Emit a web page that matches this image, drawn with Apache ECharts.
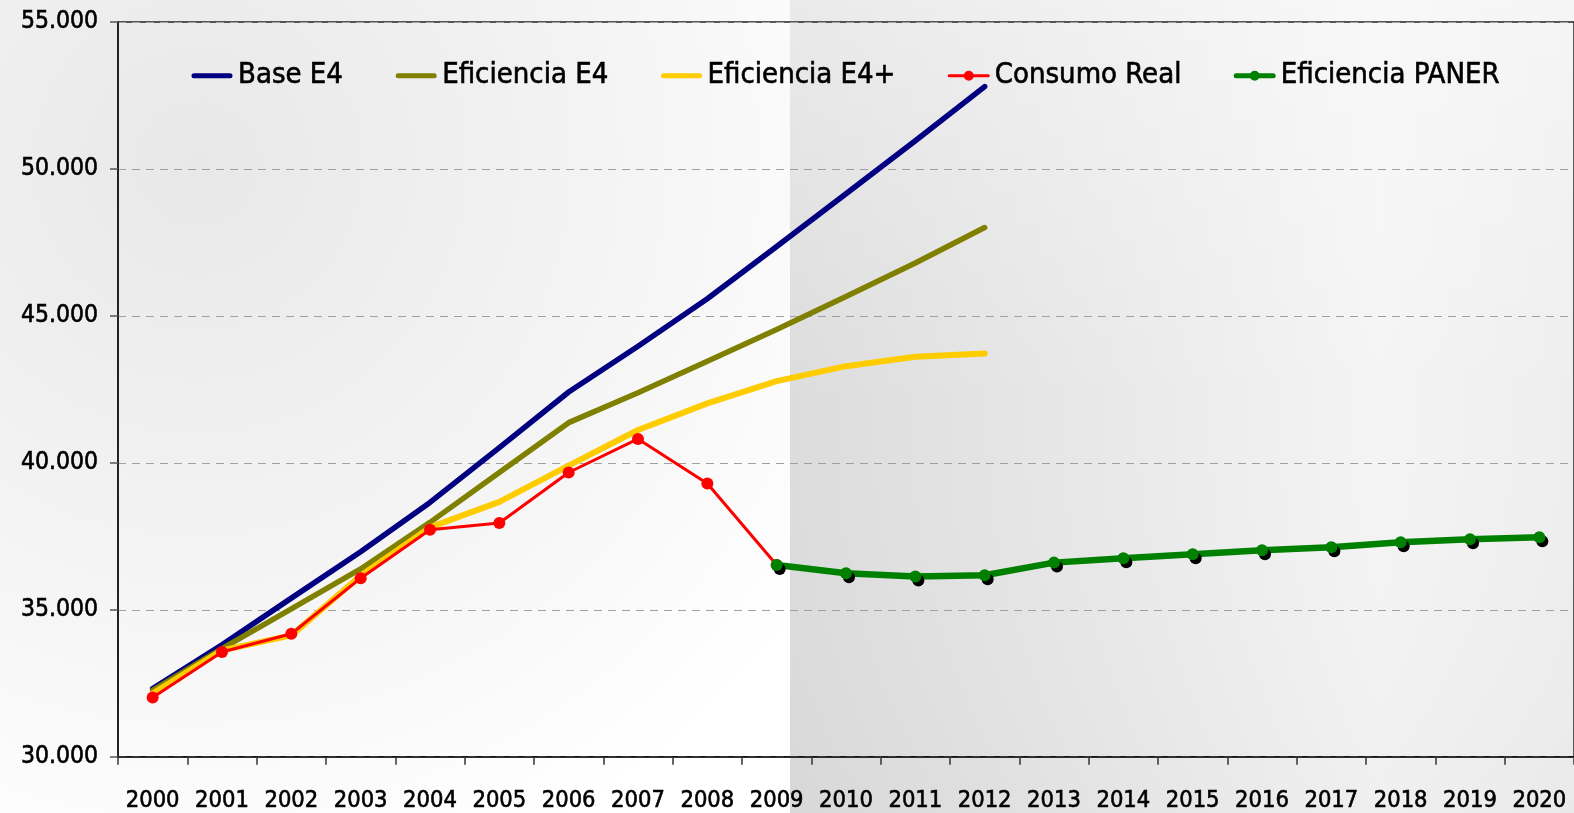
<!DOCTYPE html>
<html>
<head>
<meta charset="utf-8">
<script src="https://cdn.jsdelivr.net/npm/echarts@6/dist/echarts.min.js"></script>
<style>
html,body{margin:0;padding:0;background:#f2f2f2;}
#chart{width:1574px;height:813px;}
</style>
</head>
<body>
<div id="chart"></div>
<script>
const years = ['2000','2001','2002','2003','2004','2005','2006','2007','2008','2009','2010','2011','2012','2013','2014','2015','2016','2017','2018','2019','2020'];
const baseE4 = [32318, 33810, 35395, 36977, 38653, 40519, 42410, 43967, 45585, 47360, 49155, 50960, 52803];
const eficienciaE4 = [32260, 33675, 35032, 36390, 37974, 39671, 41367, 42385, 43458, 44533, 45663, 46797, 48005];
const eficienciaE4Plus = [32148, 33617, 34127, 36162, 37804, 38673, 39905, 41117, 42023, 42779, 43288, 43607, 43719];
const consumoReal = [32012, 33563, 34184, 36074, 37723, 37950, 39671, 40813, 39298, 36525];
const eficienciaPANER = [null, null, null, null, null, null, null, null, null, 36525, 36244, 36128, 36176, 36604, 36756, 36892, 37028, 37129, 37299, 37401, 37469];
const yTicks = {min: 30000, max: 55000, interval: 5000};

const FONT = "'DejaVu Sans Condensed', 'DejaVu Sans', sans-serif";
const chart = echarts.init(document.getElementById('chart'), null, {renderer: 'canvas'});

function fmt(v) {
  return String(v).replace(/\B(?=(\d{3})+(?!\d))/g, '.');
}

// legend icons drawn in a 42x12 box (corner points fix the box)
const BOX = 'M0,0 L0.01,0 M0,12 L0.01,12 M42,0 L41.99,0 M42,12 L41.99,12 ';
const ICON_LINE = 'path://' + BOX + 'M3,3.5 L39,3.5 A2.5,2.5 0 0 1 39,8.5 L3,8.5 A2.5,2.5 0 0 1 3,3.5 Z';
const ICON_RED = 'path://' + BOX + 'M1.5,4.5 L40.5,4.5 A1.5,1.5 0 0 1 40.5,7.5 L1.5,7.5 A1.5,1.5 0 0 1 1.5,4.5 Z M16,6 A5,5 0 1 1 26,6 A5,5 0 1 1 16,6 Z';
const ICON_GREEN = 'path://' + BOX + 'M2.5,3.5 L39.5,3.5 A2.5,2.5 0 0 1 39.5,8.5 L2.5,8.5 A2.5,2.5 0 0 1 2.5,3.5 Z M16,6 A5,5 0 1 1 26,6 A5,5 0 1 1 16,6 Z';

const heavy = {textBorderColor: '#000', textBorderWidth: 0.6};

chart.setOption({
  animation: false,
  backgroundColor: '#f2f2f2',
  textStyle: {fontFamily: FONT, color: '#000'},
  legend: {
    left: 186,
    top: 56,
    itemWidth: 42,
    itemHeight: 12,
    itemGap: 52,
    textStyle: Object.assign({fontSize: 29, fontFamily: FONT, color: '#000'}, heavy),
    data: [
      {name: 'Base E4', icon: ICON_LINE},
      {name: 'Eficiencia E4', icon: ICON_LINE},
      {name: 'Eficiencia E4+', icon: ICON_LINE},
      {name: 'Consumo Real', icon: ICON_RED},
      {name: 'Eficiencia PANER', icon: ICON_GREEN}
    ]
  },
  grid: {
    left: 118, top: 22, right: -4, bottom: 55,
    show: true, borderColor: '#222', borderWidth: 1.5, backgroundColor: 'transparent',
    containLabel: false
  },
  xAxis: {
    type: 'category',
    data: years,
    boundaryGap: true,
    axisLine: {lineStyle: {color: '#111', width: 1.5}},
    axisTick: {show: true, length: 8, lineStyle: {color: '#333', width: 1.5}},
    axisLabel: Object.assign({fontSize: 23.5, fontFamily: FONT, color: '#000', margin: 32, interval: 0}, heavy),
    splitLine: {show: false}
  },
  yAxis: {
    type: 'value',
    min: yTicks.min, max: yTicks.max, interval: yTicks.interval,
    axisLine: {show: true, lineStyle: {color: '#111', width: 1.5}},
    axisTick: {show: true, length: 8, lineStyle: {color: '#555', width: 1.5}},
    axisLabel: Object.assign({fontSize: 24.5, fontFamily: FONT, color: '#000', margin: 20, formatter: fmt}, heavy),
    splitLine: {show: true, lineStyle: {color: '#a0a0a0', width: 1.2, type: [8, 6]}}
  },
  series: [
    {name: 'Base E4', type: 'line', data: baseE4, symbol: 'none', z: 3,
      lineStyle: {color: '#000080', width: 5.5, cap: 'round', join: 'round'}, itemStyle: {color: '#000080'}},
    {name: 'Eficiencia E4', type: 'line', data: eficienciaE4, symbol: 'none', z: 4,
      lineStyle: {color: '#808000', width: 5.5, cap: 'round', join: 'round'}, itemStyle: {color: '#808000'}},
    {name: 'Eficiencia E4+', type: 'line', data: eficienciaE4Plus, symbol: 'none', z: 5,
      lineStyle: {color: '#FFCC00', width: 6, cap: 'round', join: 'round'}, itemStyle: {color: '#FFCC00'}},
    {name: 'Consumo Real', type: 'line', data: consumoReal, symbol: 'circle', symbolSize: 12, z: 6,
      lineStyle: {color: '#FF0000', width: 3}, itemStyle: {color: '#FF0000'}},
    {name: 'Eficiencia PANER', type: 'line', data: eficienciaPANER, symbol: 'circle', symbolSize: 12, z: 7,
      connectNulls: false,
      lineStyle: {color: '#008000', width: 6.5, cap: 'round', join: 'round'},
      itemStyle: {color: '#008000', shadowColor: '#000', shadowOffsetX: 3, shadowOffsetY: 4, shadowBlur: 0}}
  ]
});

// background bands (styling only), positioned from the axis scale
const p09 = chart.convertToPixel({xAxisIndex: 0}, '2009');
const p10 = chart.convertToPixel({xAxisIndex: 0}, '2010');
const split = Math.round(p09 + (p10 - p09) * 0.19);
const W = 1574, H = 813;
chart.setOption({
  graphic: [
    {type: 'rect', z: -10, silent: true, shape: {x: 0, y: 0, width: split, height: H},
      style: {fill: new echarts.graphic.RadialGradient(0.25, 0.2, 0.95, [
        {offset: 0, color: '#e8e8e8'}, {offset: 0.55, color: '#f4f4f4'}, {offset: 1, color: '#ffffff'}])}},
    {type: 'rect', z: -10, silent: true, shape: {x: split, y: 0, width: W - split, height: H},
      style: {fill: new echarts.graphic.LinearGradient(0, 0, 1, 0, [
        {offset: 0, color: '#dcdcdc'}, {offset: 0.45, color: '#eaeaea'}, {offset: 0.75, color: '#f4f4f4'}, {offset: 1, color: '#eeeeee'}])}},
    {type: 'rect', z: -9, silent: true, shape: {x: split, y: 0, width: W - split, height: H},
      style: {fill: new echarts.graphic.LinearGradient(0, 0, 0, 1, [
        {offset: 0, color: 'rgba(255,255,255,0.4)'}, {offset: 0.5, color: 'rgba(255,255,255,0)'}, {offset: 1, color: 'rgba(0,0,0,0.02)'}])}}
  ]
});
</script>
</body>
</html>
